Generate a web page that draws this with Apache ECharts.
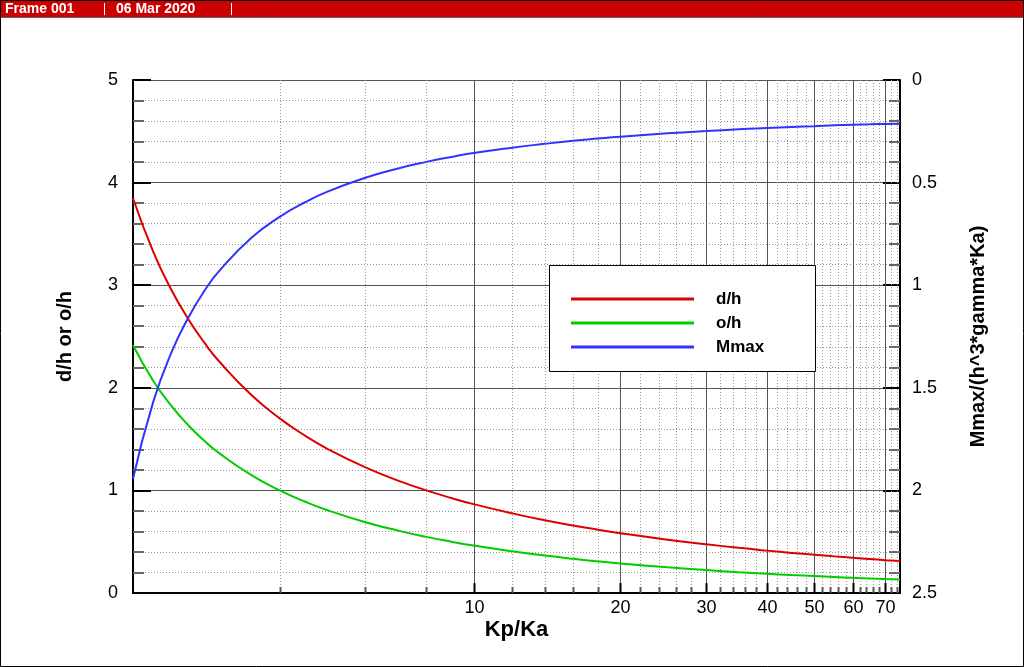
<!DOCTYPE html>
<html><head><meta charset="utf-8">
<script src="https://cdn.jsdelivr.net/npm/echarts@6/dist/echarts.min.js"></script>
<style>html,body{margin:0;padding:0;background:#fff}#c{width:1024px;height:667px}</style>
</head><body><div id="c"></div>
<script>
const kpKa = [2, 2.2, 2.4, 2.6, 2.8, 3, 3.5, 4, 4.5, 5, 6, 7, 8, 9, 10, 12, 14, 16, 18, 20, 25, 30, 35, 40, 45, 50, 55, 60, 65, 70, 75];
const dh = [3.847, 3.327, 2.951, 2.666, 2.442, 2.261, 1.929, 1.702, 1.536, 1.408, 1.224, 1.095, 1.000, 0.926, 0.866, 0.776, 0.709, 0.658, 0.617, 0.583, 0.520, 0.475, 0.440, 0.413, 0.391, 0.373, 0.357, 0.343, 0.331, 0.320, 0.311];
const oh = [2.414, 2.069, 1.821, 1.633, 1.485, 1.366, 1.148, 1.000, 0.892, 0.809, 0.690, 0.608, 0.547, 0.500, 0.462, 0.406, 0.365, 0.333, 0.308, 0.288, 0.250, 0.223, 0.203, 0.188, 0.175, 0.165, 0.156, 0.148, 0.142, 0.136, 0.131];
const mmax = [1.943, 1.570, 1.326, 1.156, 1.029, 0.933, 0.769, 0.667, 0.597, 0.545, 0.476, 0.431, 0.399, 0.375, 0.356, 0.330, 0.311, 0.296, 0.285, 0.276, 0.260, 0.249, 0.240, 0.234, 0.229, 0.225, 0.221, 0.218, 0.216, 0.214, 0.213];
const xMajorTicks = [10, 20, 30, 40, 50, 60, 70];
const xMinorTicks = [4, 6, 8, 12, 14, 16, 18, 22, 24, 26, 28, 32, 34, 36, 38, 42, 44, 46, 48, 52, 54, 56, 58, 62, 64, 66, 68, 72, 74];
const seriesNames = ['d/h', 'o/h', 'Mmax'];

const FONT = '"Liberation Sans", Arial, sans-serif';
const chart = echarts.init(document.getElementById('c'), null, {renderer: 'canvas'});

function xGrid(major) {
  return function (params, api) {
    const v = api.value(0);
    const p = api.coord([v, 0]);
    const cs = params.coordSys;
    const top = cs.y, bottom = cs.y + cs.height;
    const x = Math.round(p[0]) + 0.5;
    const children = [
      {type: 'line', shape: {x1: x, y1: top, x2: x, y2: bottom},
       style: major ? {stroke: '#555', lineWidth: 1} : {stroke: '#999', lineWidth: 1, lineDash: [1, 2]}},
      {type: 'line', shape: {x1: x, y1: bottom, x2: x, y2: bottom - (major ? 10 : 6)},
       style: {stroke: major ? '#000' : '#555', lineWidth: 2}}
    ];
    if (major) {
      children.push({type: 'text', style: {text: String(v), x: x, y: bottom + 6, align: 'center', verticalAlign: 'top',
        fontSize: 18, fontFamily: FONT, fill: '#000'}});
    }
    return {type: 'group', children: children};
  };
}

const option = {
  animation: false,
  backgroundColor: '#fff',
  grid: {left: 133, right: 124, top: 80, bottom: 74, containLabel: false},
  legend: {
    data: seriesNames, orient: 'vertical', left: 571, top: 289, padding: 0,
    itemWidth: 123, itemHeight: 3, itemGap: 4, icon: 'rect', selectedMode: false, z: 20,
    textStyle: {fontFamily: FONT, fontSize: 17, fontWeight: 'bold', color: '#000', lineHeight: 20, padding: [0, 0, 0, 17]}
  },
  xAxis: {
    type: 'log', logBase: 10, min: 2, max: 75,
    name: 'Kp/Ka', nameLocation: 'middle', nameGap: 26,
    nameTextStyle: {fontFamily: FONT, fontSize: 22, fontWeight: 'bold', color: '#000'},
    axisLine: {show: true, onZero: false, lineStyle: {color: '#000', width: 2}},
    axisTick: {show: false}, axisLabel: {show: false}, splitLine: {show: false}, minorTick: {show: false}
  },
  yAxis: [{
    type: 'value', min: 0, max: 5, interval: 1, position: 'left',
    name: 'd/h or o/h', nameLocation: 'middle', nameGap: 58,
    nameTextStyle: {fontFamily: FONT, fontSize: 20, fontWeight: 'bold', color: '#000'},
    axisLine: {show: true, lineStyle: {color: '#000', width: 2}},
    axisTick: {show: true, inside: true, length: 18, lineStyle: {color: '#000', width: 2}},
    minorTick: {show: true, splitNumber: 5, length: 11, lineStyle: {color: '#666', width: 2}},
    axisLabel: {fontFamily: FONT, fontSize: 18, color: '#000', margin: 15},
    splitLine: {show: true, lineStyle: {color: '#555', width: 1}},
    minorSplitLine: {show: true, lineStyle: {color: '#999', width: 1, type: [1, 2]}}
  }, {
    type: 'value', min: 0, max: 2.5, interval: 0.5, position: 'right', inverse: true,
    name: 'Mmax/(h^3*gamma*Ka)', nameLocation: 'middle', nameGap: 68,
    nameTextStyle: {fontFamily: FONT, fontSize: 20, fontWeight: 'bold', color: '#000'},
    axisLine: {show: true, lineStyle: {color: '#000', width: 2}},
    axisTick: {show: true, inside: true, length: 17, lineStyle: {color: '#000', width: 2}},
    minorTick: {show: true, splitNumber: 5, length: 11, lineStyle: {color: '#666', width: 2}},
    axisLabel: {fontFamily: FONT, fontSize: 18, color: '#000', margin: 12},
    splitLine: {show: false}, minorSplitLine: {show: false}
  }],
  series: [
    {type: 'custom', name: 'xMinor', renderItem: xGrid(false), data: xMinorTicks.map(v => [v, 0]),
     encode: {x: 0, y: 1}, z: 1, silent: true, clip: false},
    {type: 'custom', name: 'xMajor', renderItem: xGrid(true), data: xMajorTicks.map(v => [v, 0]),
     encode: {x: 0, y: 1}, z: 1, silent: true, clip: false},
    {type: 'line', name: seriesNames[0], yAxisIndex: 0, showSymbol: false, smooth: true, z: 5,
     color: '#dd0000', lineStyle: {color: '#dd0000', width: 2}, data: kpKa.map((x, i) => [x, dh[i]])},
    {type: 'line', name: seriesNames[1], yAxisIndex: 0, showSymbol: false, smooth: true, z: 5,
     color: '#00cc00', lineStyle: {color: '#00cc00', width: 2}, data: kpKa.map((x, i) => [x, oh[i]])},
    {type: 'line', name: seriesNames[2], yAxisIndex: 1, showSymbol: false, smooth: true, z: 5,
     color: '#3333ff', lineStyle: {color: '#3333ff', width: 2}, data: kpKa.map((x, i) => [x, mmax[i]])}
  ],
  graphic: [
    {type: 'rect', z: 10, shape: {x: 549.5, y: 265.5, width: 266, height: 106}, style: {fill: '#fff', stroke: '#000', lineWidth: 1}},
    {type: 'rect', z: 50, shape: {x: 0, y: 0, width: 1024, height: 17}, style: {fill: '#cc0000'}},
    {type: 'line', z: 50, shape: {x1: 0, y1: 17.5, x2: 1024, y2: 17.5}, style: {stroke: '#666', lineWidth: 1}},
    {type: 'text', z: 51, style: {text: 'Frame 001', x: 5, y: 9, verticalAlign: 'middle', fill: '#fff', fontSize: 14, fontWeight: 'bold', fontFamily: FONT}},
    {type: 'line', z: 51, shape: {x1: 104.5, y1: 3, x2: 104.5, y2: 15}, style: {stroke: '#fff', lineWidth: 1}},
    {type: 'text', z: 51, style: {text: '06 Mar 2020', x: 116, y: 9, verticalAlign: 'middle', fill: '#fff', fontSize: 14, fontWeight: 'bold', fontFamily: FONT}},
    {type: 'line', z: 51, shape: {x1: 231.5, y1: 3, x2: 231.5, y2: 15}, style: {stroke: '#fff', lineWidth: 1}},
    {type: 'rect', z: 60, shape: {x: 0.5, y: 0.5, width: 1023, height: 666}, style: {fill: 'none', stroke: '#000', lineWidth: 1}}
  ]
};
chart.setOption(option);
</script>
</body></html>
